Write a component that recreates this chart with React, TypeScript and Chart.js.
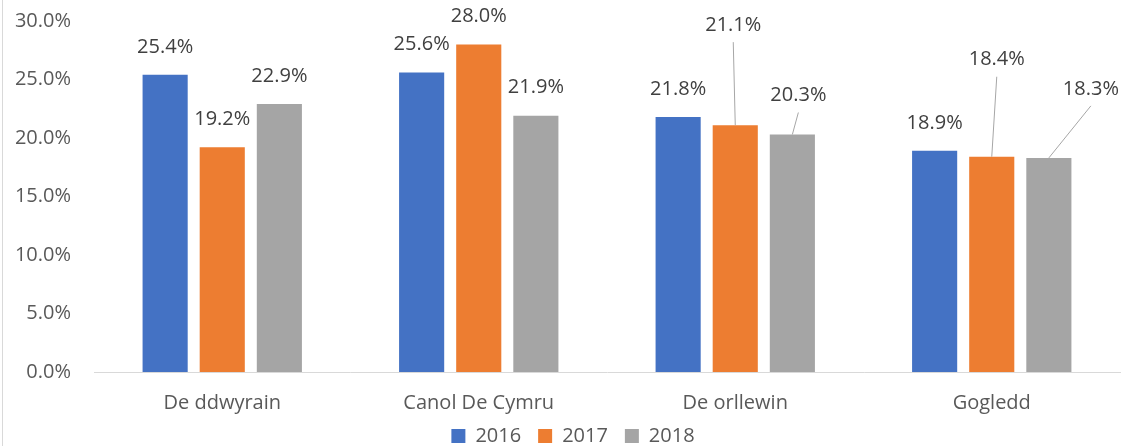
import React, { useEffect, useRef } from "react";
import { Chart, registerables } from "chart.js";

Chart.register(...registerables);

const categories = ["De ddwyrain", "Canol De Cymru", "De orllewin", "Gogledd"];
const seriesNames = ["2016", "2017", "2018"];
const values2016 = [25.4, 25.6, 21.8, 18.9];
const values2017 = [19.2, 28.0, 21.1, 18.4];
const values2018 = [22.9, 21.9, 20.3, 18.3];
const yTicks = [0, 5, 10, 15, 20, 25, 30];

const colors = ["#4472C4", "#ED7D31", "#A5A5A5"];
// label offsets (dx, dy) relative to bar top-centre, in px
const labelOffsets = [
  [[0, -28], [0, -28], [0, -28], [0, -28]],
  [[0, -28], [0, -28], [-2, -100], [5, -97]],
  [[0, -28], [0, -28], [6, -39], [42, -69]],
];
const leaderLines = [
  [false, false, false, false],
  [false, false, true, true],
  [false, false, true, true],
];

const FONT = "'Open Sans', 'Noto Sans', sans-serif";

const dataLabelPlugin = {
  id: "dataLabels",
  afterDatasetsDraw(chart: any) {
    const ctx = chart.ctx;
    ctx.save();
    chart.data.datasets.forEach((ds: any, di: number) => {
      const meta = chart.getDatasetMeta(di);
      meta.data.forEach((bar: any, i: number) => {
        const [dx, dy] = labelOffsets[di][i];
        const lx = bar.x + dx;
        const ly = bar.y + dy;
        if (leaderLines[di][i]) {
          ctx.strokeStyle = "#A6A6A6";
          ctx.lineWidth = 1;
          ctx.beginPath();
          ctx.moveTo(lx, ly + 17);
          ctx.lineTo(bar.x, bar.y);
          ctx.stroke();
        }
        ctx.fillStyle = "#404040";
        ctx.font = `20px ${FONT}`;
        ctx.textAlign = "center";
        ctx.textBaseline = "middle";
        ctx.fillText(ds.data[i].toFixed(1) + "%", lx, ly);
      });
    });
    ctx.restore();
  },
};

const borderPlugin = {
  id: "leftBorder",
  beforeDraw(chart: any) {
    const ctx = chart.ctx;
    ctx.save();
    ctx.strokeStyle = "#D9D9D9";
    ctx.lineWidth = 1;
    ctx.beginPath();
    ctx.moveTo(2.5, 0);
    ctx.lineTo(2.5, chart.height);
    ctx.stroke();
    ctx.restore();
  },
};

const legendFitPlugin = {
  id: "legendFit",
  beforeInit(chart: any) {
    const legend = chart.legend;
    if (!legend) return;
    const orig = legend.fit;
    legend.fit = function () {
      orig.call(this);
      this.height = 37;
    };
  },
  afterLayout(chart: any) {
    const legend = chart.legend;
    if (!legend) return;
    legend.left += 13;
    legend.right += 13;
  },
};

export default function App() {
  const ref = useRef<HTMLCanvasElement>(null);
  useEffect(() => {
    document.body.style.margin = "0";
    const chart = new Chart(ref.current!, {
      type: "bar",
      data: {
        labels: categories,
        datasets: [values2016, values2017, values2018].map((d, i) => ({
          label: seriesNames[i],
          data: d,
          backgroundColor: colors[i],
          barPercentage: 0.79,
          categoryPercentage: 0.668,
        })),
      },
      options: {
        animation: false,
        responsive: false,
        maintainAspectRatio: false,
        layout: { padding: { top: 21, right: 6, left: 0, bottom: 0 } },
        plugins: {
          tooltip: { enabled: false },
          legend: {
            position: "bottom",
            labels: {
              boxWidth: 14,
              boxHeight: 14,
              padding: 17,
              color: "#595959",
              font: { family: FONT, size: 20 },
            },
          },
        },
        scales: {
          x: {
            grid: { display: false, drawTicks: false },
            border: { display: true, color: "#D9D9D9", width: 1 },
            ticks: { color: "#595959", font: { family: FONT, size: 20 }, padding: 19 },
            afterFit(s: any) {
              s.height = 37;
              s._computeLabelArea = () => undefined;
            },
          },
          y: {
            min: 0,
            max: 30,
            grid: { display: false, drawTicks: false },
            border: { display: false },
            afterBuildTicks(s: any) {
              s.ticks = yTicks.map((v) => ({ value: v }));
            },
            ticks: {
              color: "#595959",
              font: { family: FONT, size: 20 },
              padding: 23,
              callback: (v: any) => Number(v).toFixed(1) + "%",
            },
            afterFit(s: any) {
              s.width = 94;
              s.paddingTop = 0;
              s.paddingBottom = 0;
            },
          },
        },
      },
      plugins: [dataLabelPlugin, borderPlugin, legendFitPlugin],
    } as any);
    return () => chart.destroy();
  }, []);
  return (
    <div style={{ width: 1126, height: 446 }}>
      <canvas ref={ref} width={1126} height={446} style={{ display: "block" }} />
    </div>
  );
}
